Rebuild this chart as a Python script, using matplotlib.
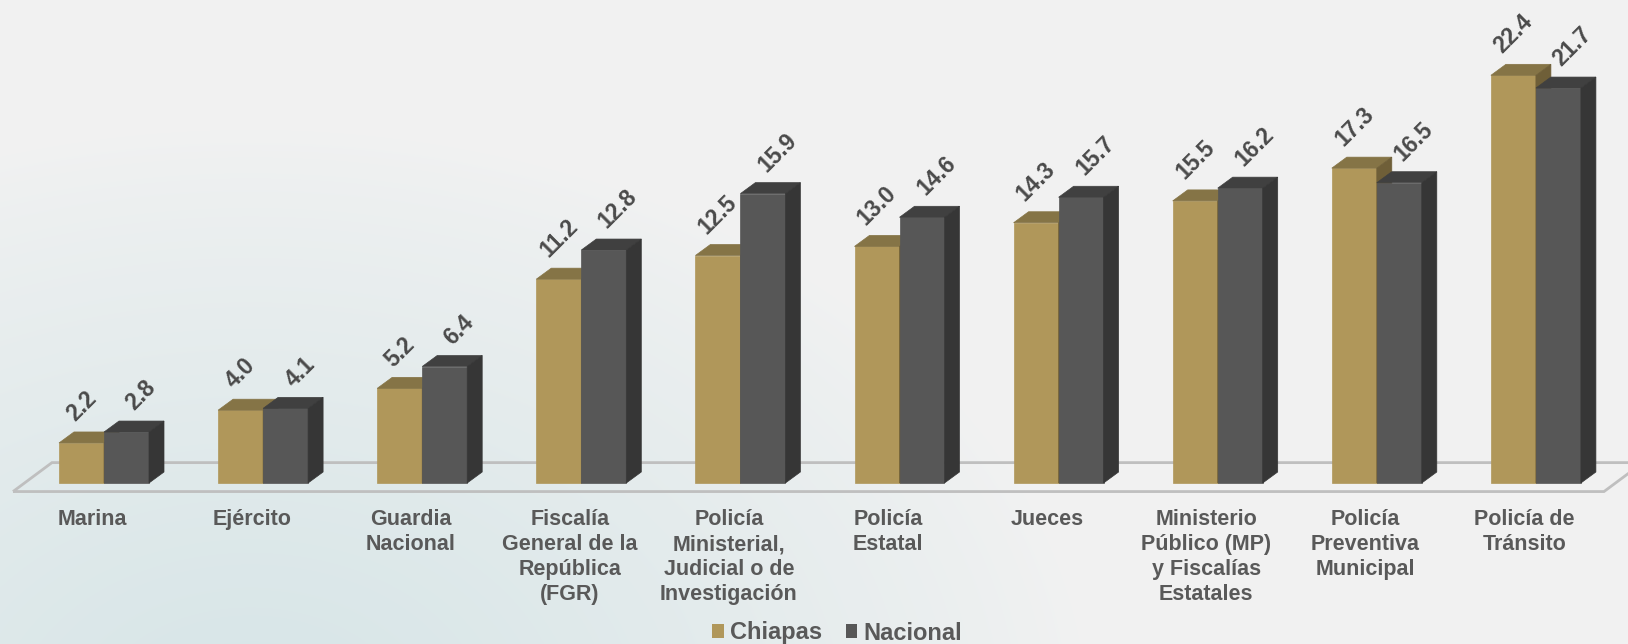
import matplotlib.pyplot as plt
import numpy as np
from matplotlib.patches import Polygon, Patch

# Data
categories = ['Marina', 'Ejército', 'Guardia\nNacional',
              'Fiscalía\nGeneral de la\nRepública\n(FGR)',
              'Policía\nMinisterial,\nJudicial o de\nInvestigación',
              'Policía\nEstatal', 'Jueces',
              'Ministerio\nPúblico (MP)\ny Fiscalías\nEstatales',
              'Policía\nPreventiva\nMunicipal', 'Policía de\nTránsito']
chiapas = [2.2, 4.0, 5.2, 11.2, 12.5, 13.0, 14.3, 15.5, 17.3, 22.4]
nacional = [2.8, 4.1, 6.4, 12.8, 15.9, 14.6, 15.7, 16.2, 16.5, 21.7]
series_names = ['Chiapas', 'Nacional']

# Colors (front, top, side)
chiapas_col = ('#B0975A', '#857446', '#6F5F38')
nacional_col = ('#575757', '#404040', '#363636')
text_col = '#595959'

plt.rcParams['font.family'] = ['Liberation Sans', 'DejaVu Sans']

W, H = 1628, 644
fig = plt.figure(figsize=(W / 100, H / 100), dpi=100)

# Background gradient (light gray with a teal glow at the bottom left)
bg = fig.add_axes([0, 0, 1, 1])
yy, xx = np.mgrid[0:H, 0:W]
r = np.sqrt(((xx - 250) / 850.0) ** 2 + ((yy - 720) / 600.0) ** 2)
t = np.clip(1 - r, 0, 1) ** 0.8
c0 = np.array([0xF2, 0xF2, 0xF2]) / 255
c1 = np.array([0xD6, 0xE5, 0xE7]) / 255
img = c0 + (c1 - c0) * t[..., None]
bg.imshow(img, aspect='auto', extent=[0, 1, 0, 1], interpolation='bilinear')
bg.axis('off')

# Main axes: x in group units, y in data units
ax = fig.add_axes([0, 0, 1, 1])
ax.patch.set_alpha(0)
px_x = 159.1   # pixels per group
px_y = 18.2    # pixels per unit
ax.set_xlim(-104 / px_x, (W - 104) / px_x)
ax.set_ylim(-161 / px_y, (H - 161) / px_y)
ax.axis('off')

w = 45 / px_x      # bar width
dx = 15 / px_x     # depth offset in x
dy = 11 / px_y     # depth offset in y
n = len(categories)

# Floor (parallelogram under the bars)
fx0, fx1 = -0.5, n - 0.5
front = (-0.072, -0.47)
back = (0.173, 1.12)
floor = [(fx0 + front[0], front[1]), (fx1 + front[0], front[1]),
         (fx1 + back[0], back[1]), (fx0 + back[0], back[1])]
ax.add_patch(Polygon(floor, closed=True, facecolor='none',
                     edgecolor='#BFBFBF', lw=2.0, zorder=1))


def draw_box(x0, v, cols):
    f, tp, sd = cols
    ax.add_patch(Polygon([(x0, 0), (x0 + w, 0), (x0 + w, v), (x0, v)],
                         facecolor=f, edgecolor=f, lw=0.5, zorder=2))
    ax.add_patch(Polygon([(x0, v), (x0 + w, v), (x0 + w + dx, v + dy), (x0 + dx, v + dy)],
                         facecolor=tp, edgecolor=tp, lw=0.5, zorder=2))
    ax.add_patch(Polygon([(x0 + w, 0), (x0 + w + dx, dy), (x0 + w + dx, v + dy), (x0 + w, v)],
                         facecolor=sd, edgecolor=sd, lw=0.5, zorder=2))


for i in range(n):
    draw_box(i - w, chiapas[i], chiapas_col)
    draw_box(i, nacional[i], nacional_col)
    # value labels
    ax.text(i - w / 2, chiapas[i] + 0.95, f'{chiapas[i]:.1f}', rotation=45,
            ha='center', va='bottom', fontsize=16.5, fontweight='bold',
            color='#4A4A4A', zorder=3)
    ax.text(i + w / 2 + 0.09, nacional[i] + 0.95, f'{nacional[i]:.1f}', rotation=45,
            ha='center', va='bottom', fontsize=16.5, fontweight='bold',
            color='#4A4A4A', zorder=3)
    # category labels
    ax.text(i - 0.072, -1.42, categories[i], ha='center', va='top',
            fontsize=15.5, fontweight='bold', color=text_col,
            linespacing=1.26, zorder=3)

# Legend
handles = [Patch(facecolor=chiapas_col[0]), Patch(facecolor=nacional_col[0])]
leg = fig.legend(handles, series_names, loc='center', ncol=2,
                 bbox_to_anchor=(837 / W, 11 / H), frameon=False,
                 prop={'size': 17, 'weight': 'bold'},
                 handlelength=0.5, handleheight=0.5, handletextpad=0.25,
                 columnspacing=1.0, borderpad=0)
for txt in leg.get_texts():
    txt.set_color(text_col)

fig.savefig('out.png', dpi=100)
